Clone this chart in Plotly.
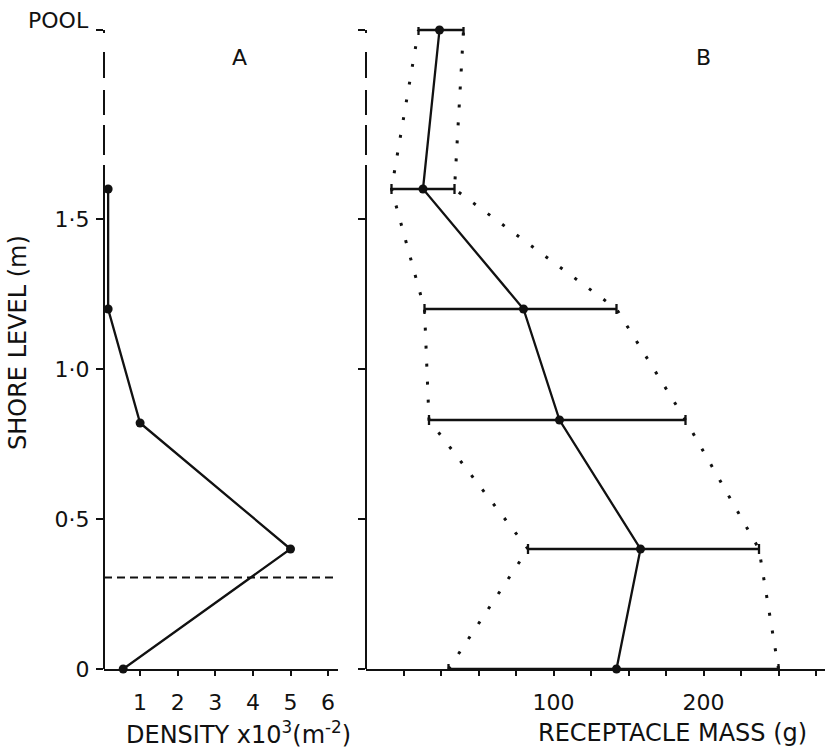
import plotly.graph_objects as go

# ---------------- data ----------------
# Panel A: density (x10^3 per m^2) by shore level (m)
levels_a = [0.0, 0.40, 0.82, 1.20, 1.60]
density = [0.55, 5.0, 1.0, 0.15, 0.15]
ref_level = 0.305           # dashed reference level in panel A
ref_span = [0.04, 6.2]

# Panel B: receptacle mass (g) by shore level (m); 2.13 = pool
levels_b = [0.0, 0.40, 0.83, 1.20, 1.60, 2.13]
mass = [142, 158, 104, 80, 13, 24]
mass_lo = [30, 83, 17, 14, -8, 10]
mass_hi = [250, 237, 188, 142, 34, 40]

pool_level = 2.13
y_ticks = [0, 0.5, 1.0, 1.5, pool_level]
y_ticktext = ["0", "0·5", "1·0", "1·5", ""]
xa_ticks = [1, 2, 3, 4, 5, 6]
xb_ticks = [0, 25, 50, 75, 100, 125, 150, 175, 200, 225, 250, 275]
xb_ticktext = ["", "", "", "", "100", "", "", "", "200", "", "", ""]

# ---------------- layout helpers ----------------
W, H = 832, 749
H_EFF = 736          # effective rendered paper height observed in the viewer
def px(x):
    return x / W
def py(y):
    return 1 - y / H_EFF

FONT = "DejaVu Sans"
BLACK = "#111111"

fig = go.Figure()

# Panel A
fig.add_trace(go.Scatter(
    x=ref_span, y=[ref_level, ref_level], mode="lines",
    line=dict(color=BLACK, width=2, dash="8px,5px"),
    xaxis="x", yaxis="y", cliponaxis=False, showlegend=False, hoverinfo="skip"))
fig.add_trace(go.Scatter(
    x=density, y=levels_a, mode="lines+markers",
    line=dict(color=BLACK, width=2.3), marker=dict(color=BLACK, size=9),
    xaxis="x", yaxis="y", cliponaxis=False, showlegend=False))

# Panel B envelopes (dotted)
for edge in (mass_lo, mass_hi):
    fig.add_trace(go.Scatter(
        x=edge, y=levels_b, mode="lines",
        line=dict(color=BLACK, width=3, dash="3px,15px"),
        xaxis="x2", yaxis="y2", cliponaxis=False, showlegend=False, hoverinfo="skip"))

# Panel B means with error bars
err_plus = [h - m for h, m in zip(mass_hi, mass)]
err_minus = [m - l for m, l in zip(mass, mass_lo)]
fig.add_trace(go.Scatter(
    x=mass, y=levels_b, mode="lines+markers",
    line=dict(color=BLACK, width=2.3), marker=dict(color=BLACK, size=9),
    error_x=dict(type="data", symmetric=False, array=err_plus, arrayminus=err_minus,
                 color=BLACK, thickness=2.3, width=5),
    xaxis="x2", yaxis="y2", cliponaxis=False, showlegend=False))

# domains in pixels
xa0, xa1 = 104, 337.5
xb0, xb1 = 366, 825
yb, yt = 669, 27

axis_common = dict(showgrid=False, zeroline=False, ticks="outside",
                   tickcolor=BLACK, tickwidth=2,
                   tickfont=dict(family=FONT, size=22, color=BLACK))

fig.update_layout(
    width=W, height=H,
    margin=dict(l=0, r=0, t=0, b=0),
    paper_bgcolor="white", plot_bgcolor="white",
    showlegend=False,
    xaxis=dict(domain=[px(xa0), px(xa1)], range=[0.04, 6.25], anchor="y",
               showline=True, linecolor=BLACK, linewidth=2,
               tickvals=xa_ticks, ticktext=[str(v) for v in xa_ticks],
               ticklen=5, ticklabelstandoff=8, **axis_common),
    yaxis=dict(domain=[py(yb), py(yt)], range=[0, 2.14], anchor="x",
               showline=False, tickvals=y_ticks, ticktext=y_ticktext,
               ticklen=7, ticklabelstandoff=2, **axis_common),
    xaxis2=dict(domain=[px(xb0), px(xb1)], range=[-25, 281], anchor="y2",
                showline=True, linecolor=BLACK, linewidth=2,
                tickvals=xb_ticks, ticktext=xb_ticktext,
                ticklen=5, ticklabelstandoff=8, **axis_common),
    yaxis2=dict(domain=[py(yb), py(yt)], range=[0, 2.14], anchor="x2",
                showline=False, tickvals=y_ticks,
                ticktext=[""] * len(y_ticks), ticklen=7, **axis_common),
)

# y-axis lines: solid lower part, broken (dashed) upper part toward the pool
solid_top = 1.62
for xr, yr in (("x domain", "y"), ("x2 domain", "y2")):
    fig.add_shape(type="line", xref=xr, yref=yr, x0=0, x1=0, y0=0, y1=solid_top,
                  line=dict(color=BLACK, width=2))
    fig.add_shape(type="line", xref=xr, yref=yr, x0=0, x1=0, y0=pool_level, y1=solid_top,
                  line=dict(color=BLACK, width=2,
                            dash="3px,19px,26px,12px,25px,10px,30px,10px,80px"))

# text
ann = [
    dict(text="POOL", x=px(91), y=py(20), xanchor="right", yanchor="middle", size=22),
    dict(text="A", x=px(240), y=py(58), xanchor="center", yanchor="middle", size=22),
    dict(text="B", x=px(703), y=py(58), xanchor="center", yanchor="middle", size=22),
    dict(text="DENSITY x10<sup>3</sup>(m<sup>-2</sup>)", x=px(238), y=py(733),
         xanchor="center", yanchor="middle", size=24),
    dict(text="RECEPTACLE MASS (g)", x=px(672), y=py(733),
         xanchor="center", yanchor="middle", size=24),
    dict(text="SHORE LEVEL (m)", x=px(18), y=py(343), textangle=-90,
         xanchor="center", yanchor="middle", size=24),
]
for a in ann:
    size = a.pop("size")
    fig.add_annotation(xref="paper", yref="paper", showarrow=False,
                       font=dict(family=FONT, size=size, color=BLACK), **a)

fig.write_html("out.html")
